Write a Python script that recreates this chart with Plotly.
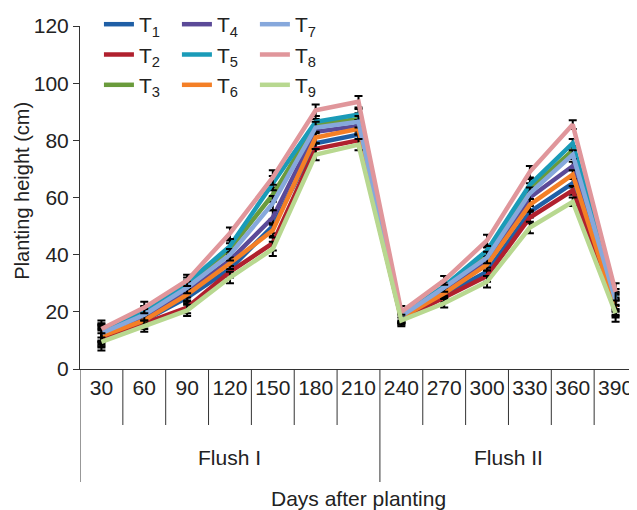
import plotly.graph_objects as go

days = ["30", "60", "90", "120", "150", "180", "210", "240", "270", "300", "330", "360", "390"]
flush_labels = ["Flush I", "Flush II"]
flush_sizes = [7, 6]

T1 = [11, 17, 25, 35, 50, 79, 82, 18, 26, 34, 55, 65, 22]
T2 = [10.5, 16, 21.5, 34, 44, 77, 80, 17.5, 25, 32.5, 53, 62.5, 21]
T3 = [12.5, 19.5, 29, 42, 61, 85.5, 87.5, 18.5, 28, 40.5, 63, 76.5, 23.5]
T4 = [12, 18, 27, 38, 53, 83, 85, 18, 27, 37.5, 60, 71, 23]
T5 = [13, 20, 30, 43, 65, 86.5, 89, 19, 29, 41.5, 64.5, 79, 25]
T6 = [11.5, 17, 26, 37, 48.5, 81, 84, 18, 26.5, 36.5, 57.5, 68, 21.5]
T7 = [12.5, 19, 28.5, 40, 58, 84.5, 86.5, 18.5, 28.5, 39, 61.5, 75, 24]
T8 = [14, 21.5, 31, 47.5, 67, 90.5, 93.5, 20, 31, 45, 69, 85.5, 27]
T9 = [9.5, 15, 20.5, 32, 42, 75, 78.5, 17, 23, 30.5, 49.5, 58.5, 19.5]
err = [3, 2, 2, 2, 2.5, 2, 2, 2, 1.5, 2, 2, 1.5, 3]

series = [
    ("T<sub>1</sub>", T1, "#1f5fa6", "legend"),
    ("T<sub>2</sub>", T2, "#b0202e", "legend"),
    ("T<sub>3</sub>", T3, "#6a9b3c", "legend"),
    ("T<sub>4</sub>", T4, "#5b4a98", "legend2"),
    ("T<sub>5</sub>", T5, "#1a9bb8", "legend2"),
    ("T<sub>6</sub>", T6, "#f47f26", "legend2"),
    ("T<sub>7</sub>", T7, "#86a8dc", "legend3"),
    ("T<sub>8</sub>", T8, "#e0969b", "legend3"),
    ("T<sub>9</sub>", T9, "#b8d890", "legend3"),
]

# the page body has an 8px margin, so the figure is made 8px smaller
W, H = 629, 502
ML, MR, MT, MB = 72, 0, 18, 141
PH = H - MT - MB


def py(px_below_axis):
    """paper y for a pixel offset below the x axis"""
    return -px_below_axis / PH


fig = go.Figure()
for name, vals, color, leg in series:
    fig.add_trace(go.Scatter(
        x=days, y=vals, name=name, mode="lines",
        line=dict(color=color, width=4.5),
        error_y=dict(type="data", array=err, color="black", thickness=2, width=4),
        legend=leg,
    ))

font = "Liberation Sans, Arial, sans-serif"
txt = "#222"
legstyle = dict(font=dict(size=21, color=txt, family=font), bgcolor="rgba(0,0,0,0)",
                tracegroupgap=0, yanchor="top", xanchor="left", y=1.064, itemwidth=30)

shapes = []
line_style = dict(color="#333", width=1)
bounds = [0]
for s in flush_sizes:
    bounds.append(bounds[-1] + s)
for i in range(len(days) + 1):
    long = i in bounds
    xpos = i - 0.5 if i < len(days) else i - 0.52
    shapes.append(dict(type="line", xref="x", yref="paper", x0=xpos, x1=xpos,
                       y0=0, y1=py(113 if long else 56), line=line_style))

annotations = []
for k, lab in enumerate(flush_labels):
    centre = (bounds[k] + bounds[k + 1] - 1) / 2
    annotations.append(dict(text=lab, xref="x", yref="paper", x=centre, y=py(89),
                            showarrow=False, font=dict(size=21, color=txt, family=font),
                            yanchor="middle"))
annotations.append(dict(text="Days after planting", xref="paper", yref="paper", x=0.5, y=py(129),
                        showarrow=False, font=dict(size=21, color=txt, family=font),
                        yanchor="middle"))
annotations.append(dict(text="Planting height (cm)", xref="paper", yref="paper", x=-0.104, y=0.52,
                        textangle=-90, showarrow=False, font=dict(size=20, color=txt, family=font),
                        xanchor="center", yanchor="middle"))

fig.update_layout(
    width=W, height=H,
    margin=dict(l=ML, r=MR, t=MT, b=MB, autoexpand=False),
    plot_bgcolor="white", paper_bgcolor="white",
    font=dict(family=font, size=21, color=txt),
    showlegend=True,
    legend=dict(legstyle, x=0.034),
    legend2=dict(legstyle, x=0.174),
    legend3=dict(legstyle, x=0.314),
    shapes=shapes,
    annotations=annotations,
    xaxis=dict(
        type="category", range=[-0.5, len(days) - 0.5], showline=True, linecolor="#333", linewidth=1,
        ticks="", showgrid=False, automargin=False, tickfont=dict(size=21), ticklabelstandoff=0,
    ),
    yaxis=dict(
        range=[0, 120], dtick=20, showline=True, linecolor="#333", linewidth=1,
        ticks="outside", ticklen=6, tickcolor="#333", showgrid=False, zeroline=False,
        automargin=False, tickfont=dict(size=21),
    ),
)

fig.write_html("out.html")
